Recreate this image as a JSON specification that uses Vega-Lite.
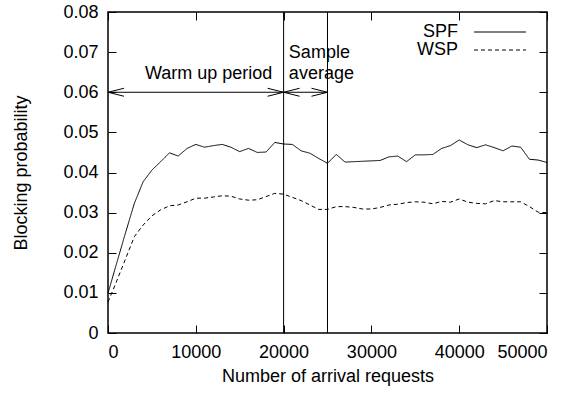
{
  "$schema": "https://vega.github.io/schema/vega-lite/v6.json",
  "width": 439,
  "height": 321,
  "autosize": {"type": "none"},
  "padding": {"left": 108, "top": 12, "right": 40, "bottom": 61},
  "config": {
    "font": "Liberation Sans",
    "view": {"stroke": "black", "strokeWidth": 1.5},
    "axis": {
      "grid": false,
      "domain": false,
      "tickColor": "black",
      "tickWidth": 1,
      "tickSize": -8,
      "labelColor": "black",
      "labelFontSize": 18,
      "labelPadding": 18,
      "titleColor": "black",
      "titleFontSize": 18,
      "titleFontWeight": "normal"
    },
    "legend": {
      "orient": "none",
      "legendX": 364,
      "legendY": 11,
      "padding": 0,
      "rowPadding": -1,
      "symbolType": "M -6.5 0 H 6.5",
      "symbolSize": 64,
      "symbolOffset": 19,
      "symbolStrokeWidth": 1,
      "symbolStrokeColor": "black",
      "symbolFillColor": "transparent",
      "labelAlign": "right",
      "labelBaseline": "middle",
      "labelOffset": -51,
      "labelFontSize": 18,
      "labelColor": "black"
    }
  },
  "datasets": {
    "runs": [
      {"n": 0, "series": "SPF", "p": 0.0099},
      {"n": 1000, "series": "SPF", "p": 0.0175},
      {"n": 2000, "series": "SPF", "p": 0.025},
      {"n": 3000, "series": "SPF", "p": 0.0323},
      {"n": 4000, "series": "SPF", "p": 0.0377},
      {"n": 5000, "series": "SPF", "p": 0.0406},
      {"n": 6000, "series": "SPF", "p": 0.0427},
      {"n": 7000, "series": "SPF", "p": 0.0449},
      {"n": 8000, "series": "SPF", "p": 0.0441},
      {"n": 9000, "series": "SPF", "p": 0.046},
      {"n": 10000, "series": "SPF", "p": 0.047},
      {"n": 11000, "series": "SPF", "p": 0.0463},
      {"n": 12000, "series": "SPF", "p": 0.0467},
      {"n": 13000, "series": "SPF", "p": 0.047},
      {"n": 14000, "series": "SPF", "p": 0.0463},
      {"n": 15000, "series": "SPF", "p": 0.0452},
      {"n": 16000, "series": "SPF", "p": 0.046},
      {"n": 17000, "series": "SPF", "p": 0.045},
      {"n": 18000, "series": "SPF", "p": 0.0451},
      {"n": 19000, "series": "SPF", "p": 0.0475},
      {"n": 20000, "series": "SPF", "p": 0.0471},
      {"n": 21000, "series": "SPF", "p": 0.047},
      {"n": 22000, "series": "SPF", "p": 0.0454},
      {"n": 23000, "series": "SPF", "p": 0.0448},
      {"n": 24000, "series": "SPF", "p": 0.0435},
      {"n": 25000, "series": "SPF", "p": 0.0423},
      {"n": 26000, "series": "SPF", "p": 0.0445},
      {"n": 27000, "series": "SPF", "p": 0.0426},
      {"n": 28000, "series": "SPF", "p": 0.0427},
      {"n": 29000, "series": "SPF", "p": 0.0428},
      {"n": 30000, "series": "SPF", "p": 0.0429},
      {"n": 31000, "series": "SPF", "p": 0.043},
      {"n": 32000, "series": "SPF", "p": 0.0439},
      {"n": 33000, "series": "SPF", "p": 0.0441},
      {"n": 34000, "series": "SPF", "p": 0.0427},
      {"n": 35000, "series": "SPF", "p": 0.0444},
      {"n": 36000, "series": "SPF", "p": 0.0444},
      {"n": 37000, "series": "SPF", "p": 0.0445},
      {"n": 38000, "series": "SPF", "p": 0.046},
      {"n": 39000, "series": "SPF", "p": 0.0467},
      {"n": 40000, "series": "SPF", "p": 0.0481},
      {"n": 41000, "series": "SPF", "p": 0.0469},
      {"n": 42000, "series": "SPF", "p": 0.0462},
      {"n": 43000, "series": "SPF", "p": 0.0469},
      {"n": 44000, "series": "SPF", "p": 0.0462},
      {"n": 45000, "series": "SPF", "p": 0.0454},
      {"n": 46000, "series": "SPF", "p": 0.0466},
      {"n": 47000, "series": "SPF", "p": 0.0463},
      {"n": 48000, "series": "SPF", "p": 0.0433},
      {"n": 49000, "series": "SPF", "p": 0.0431},
      {"n": 50000, "series": "SPF", "p": 0.0425},
      {"n": 0, "series": "WSP", "p": 0.0077},
      {"n": 1000, "series": "WSP", "p": 0.013},
      {"n": 2000, "series": "WSP", "p": 0.0185},
      {"n": 3000, "series": "WSP", "p": 0.024},
      {"n": 4000, "series": "WSP", "p": 0.0269},
      {"n": 5000, "series": "WSP", "p": 0.0292},
      {"n": 6000, "series": "WSP", "p": 0.0307},
      {"n": 7000, "series": "WSP", "p": 0.0317},
      {"n": 8000, "series": "WSP", "p": 0.0319},
      {"n": 9000, "series": "WSP", "p": 0.0327},
      {"n": 10000, "series": "WSP", "p": 0.0336},
      {"n": 11000, "series": "WSP", "p": 0.0336},
      {"n": 12000, "series": "WSP", "p": 0.0339},
      {"n": 13000, "series": "WSP", "p": 0.0342},
      {"n": 14000, "series": "WSP", "p": 0.0341},
      {"n": 15000, "series": "WSP", "p": 0.0334},
      {"n": 16000, "series": "WSP", "p": 0.0331},
      {"n": 17000, "series": "WSP", "p": 0.0332},
      {"n": 18000, "series": "WSP", "p": 0.034},
      {"n": 19000, "series": "WSP", "p": 0.0348},
      {"n": 20000, "series": "WSP", "p": 0.0346},
      {"n": 21000, "series": "WSP", "p": 0.0338},
      {"n": 22000, "series": "WSP", "p": 0.033},
      {"n": 23000, "series": "WSP", "p": 0.0319},
      {"n": 24000, "series": "WSP", "p": 0.0308},
      {"n": 25000, "series": "WSP", "p": 0.0308},
      {"n": 26000, "series": "WSP", "p": 0.0315},
      {"n": 27000, "series": "WSP", "p": 0.0315},
      {"n": 28000, "series": "WSP", "p": 0.0313},
      {"n": 29000, "series": "WSP", "p": 0.0309},
      {"n": 30000, "series": "WSP", "p": 0.0309},
      {"n": 31000, "series": "WSP", "p": 0.0313},
      {"n": 32000, "series": "WSP", "p": 0.0319},
      {"n": 33000, "series": "WSP", "p": 0.0321},
      {"n": 34000, "series": "WSP", "p": 0.0325},
      {"n": 35000, "series": "WSP", "p": 0.0327},
      {"n": 36000, "series": "WSP", "p": 0.0326},
      {"n": 37000, "series": "WSP", "p": 0.0322},
      {"n": 38000, "series": "WSP", "p": 0.0328},
      {"n": 39000, "series": "WSP", "p": 0.0326},
      {"n": 40000, "series": "WSP", "p": 0.0334},
      {"n": 41000, "series": "WSP", "p": 0.0326},
      {"n": 42000, "series": "WSP", "p": 0.0323},
      {"n": 43000, "series": "WSP", "p": 0.0322},
      {"n": 44000, "series": "WSP", "p": 0.033},
      {"n": 45000, "series": "WSP", "p": 0.0327},
      {"n": 46000, "series": "WSP", "p": 0.0327},
      {"n": 47000, "series": "WSP", "p": 0.0327},
      {"n": 48000, "series": "WSP", "p": 0.0315},
      {"n": 49000, "series": "WSP", "p": 0.0301},
      {"n": 50000, "series": "WSP", "p": 0.03}
    ],
    "phases": [{"n": 20000}, {"n": 25000}],
    "span": [{"from": 0, "to": 25000, "level": 0.06}],
    "heads": [
      {"n": 0, "level": 0.06, "dir": "left"},
      {"n": 20000, "level": 0.06, "dir": "right"},
      {"n": 20000, "level": 0.06, "dir": "left"},
      {"n": 25000, "level": 0.06, "dir": "right"}
    ],
    "notes": [
      {"n": 4200, "level": 0.0633, "label": "Warm up period"},
      {"n": 20600, "level": 0.0685, "label": "Sample"},
      {"n": 20600, "level": 0.0633, "label": "average"}
    ]
  },
  "resolve": {"axis": {"x": "independent", "y": "independent"}},
  "layer": [
    {
      "data": {"name": "runs"},
      "mark": {"type": "line", "color": "black", "strokeWidth": 1},
      "encoding": {
        "x": {
          "field": "n",
          "type": "quantitative",
          "scale": {"domain": [0, 50000], "nice": false},
          "axis": {
            "orient": "bottom",
            "title": "Number of arrival requests",
            "values": [0, 10000, 20000, 30000, 40000, 50000],
            "format": "d",
            "titlePadding": 6
          }
        },
        "y": {
          "field": "p",
          "type": "quantitative",
          "scale": {"domain": [0, 0.08], "nice": false, "zero": true},
          "axis": {
            "orient": "left",
            "title": "Blocking probability",
            "values": [0, 0.01, 0.02, 0.03, 0.04, 0.05, 0.06, 0.07, 0.08],
            "labelExpr": "datum.value === 0 ? '0' : format(datum.value, '.2f')",
            "titlePadding": 32
          }
        },
        "strokeDash": {
          "field": "series",
          "type": "nominal",
          "scale": {"domain": ["SPF", "WSP"], "range": [[1, 0], [4, 3]]},
          "legend": {"title": null}
        }
      }
    },
    {
      "data": {"name": "phases"},
      "mark": {"type": "rule", "color": "black", "strokeWidth": 1},
      "encoding": {
        "x": {
          "field": "n",
          "type": "quantitative",
          "axis": {
            "orient": "top",
            "labels": false,
            "title": null,
            "values": [0, 10000, 20000, 30000, 40000, 50000]
          }
        }
      }
    },
    {
      "data": {"name": "span"},
      "mark": {"type": "rule", "color": "black", "strokeWidth": 1},
      "encoding": {
        "x": {"field": "from", "type": "quantitative", "axis": null},
        "x2": {"field": "to"},
        "y": {
          "field": "level",
          "type": "quantitative",
          "axis": {
            "orient": "right",
            "labels": false,
            "title": null,
            "values": [0, 0.01, 0.02, 0.03, 0.04, 0.05, 0.06, 0.07, 0.08]
          }
        }
      }
    },
    {
      "data": {"name": "heads"},
      "mark": {"type": "point", "filled": false, "stroke": "black", "strokeWidth": 1, "size": 64, "opacity": 1},
      "encoding": {
        "x": {"field": "n", "type": "quantitative", "axis": null},
        "y": {"field": "level", "type": "quantitative", "axis": null},
        "shape": {
          "field": "dir",
          "type": "nominal",
          "scale": {"domain": ["left", "right"], "range": ["M 4 -1 L 0 0 L 4 1", "M -4 -1 L 0 0 L -4 1"]},
          "legend": null
        }
      }
    },
    {
      "data": {"name": "notes"},
      "mark": {"type": "text", "align": "left", "baseline": "alphabetic", "fontSize": 18, "color": "black"},
      "encoding": {
        "x": {"field": "n", "type": "quantitative", "axis": null},
        "y": {"field": "level", "type": "quantitative", "axis": null},
        "text": {"field": "label"}
      }
    }
  ]
}
